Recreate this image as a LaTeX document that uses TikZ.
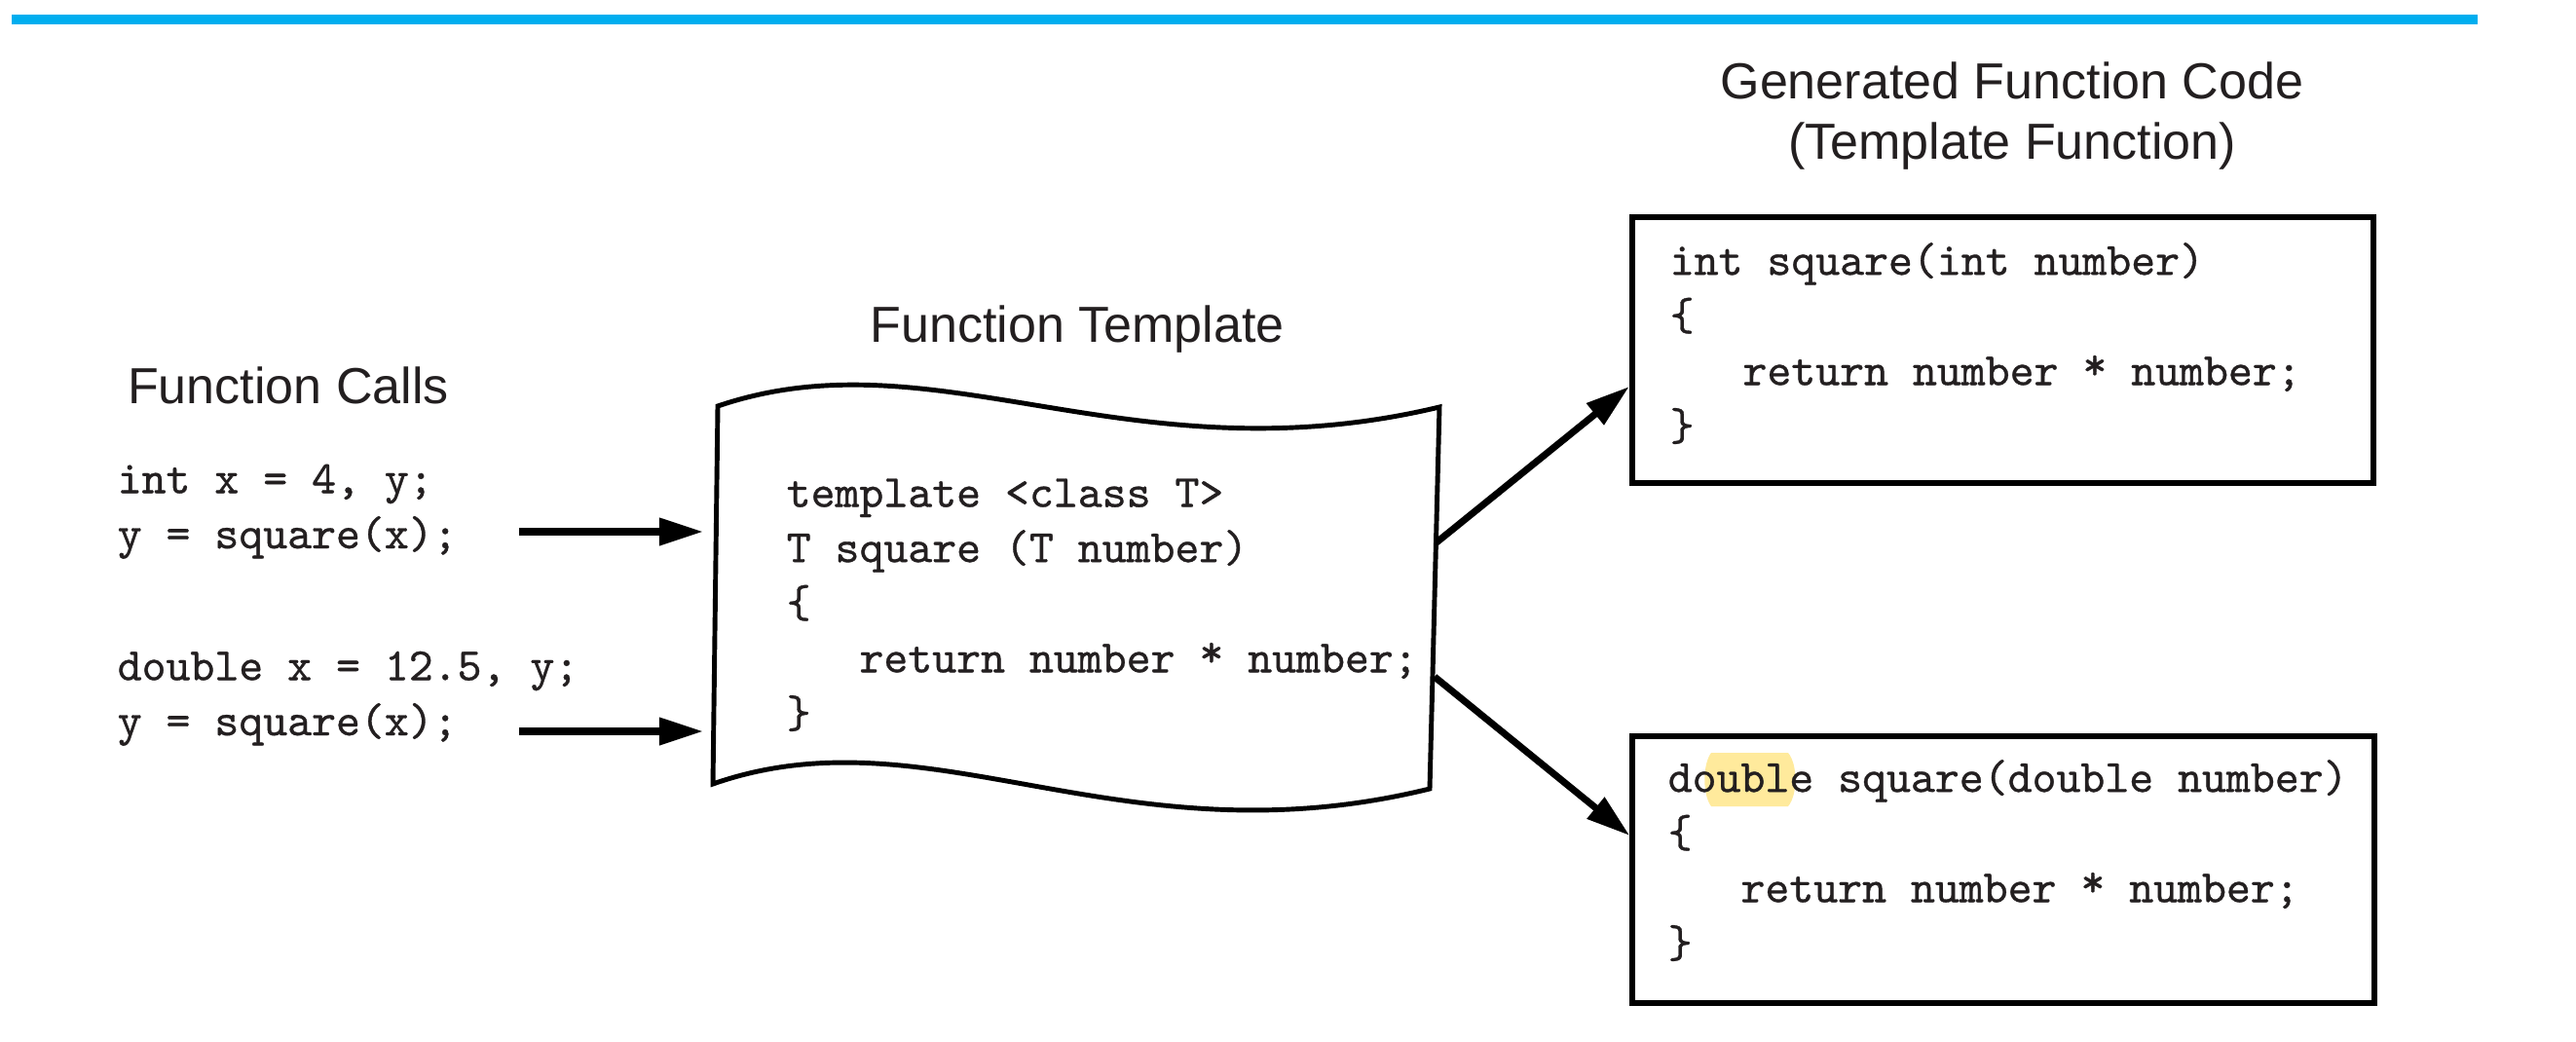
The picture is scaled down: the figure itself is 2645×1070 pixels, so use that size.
\documentclass[tikz,border=0pt]{standalone}
\usepackage{fontspec}
\newfontfamily\labelfont{Liberation Sans}
\newfontfamily\codefont[FakeBold=0.7]{lmmono10-regular.otf}
\usepackage{tikz}
\usetikzlibrary{positioning,arrows.meta}
\definecolor{bar}{HTML}{00AEEF}
\definecolor{hilite}{HTML}{FFEA9C}
\definecolor{ink}{HTML}{231F20}
\newcommand{\codestar}{\raisebox{0.12em}{*}}

\begin{document}
\begin{tikzpicture}[x=0.01cm, y=-0.01cm,
  heading/.style={font=\labelfont\fontsize{14.8}{17.4}\selectfont, text=ink, inner sep=0pt, align=center},
  code/.style={font=\codefont\fontsize{13.5}{16.1}\selectfont, text=ink, inner sep=0pt, align=left},
  genbox/.style={draw, line width=1.7pt, minimum width=7.61cm, minimum height=2.73cm, inner sep=0pt},
  arr/.style={-{Triangle[length=0.45cm, width=0.27cm]}, line width=2pt}]
\useasboundingbox (0,0) rectangle (2645,1070);
\fill[bar] (12,15) rectangle (2544,25);

% function calls (base = last line)
\node[heading, anchor=base] (callHead) at (296,414) {Function Calls};
\node[code, anchor=base west] (callA) at (120,563) {int x = 4, y;\\y = square(x);};
\node[code, anchor=base west] (callB) at (120,755) {double x = 12.5, y;\\y = square(x);};

% the template, drawn as a sheet with wavy edges
\node[heading, anchor=base] (tplHead) at (1106,351) {Function Template};
\coordinate (tplTL) at (737,417);
\coordinate (tplTR) at (1478,418);
\coordinate (tplBR) at (1468,810);
\coordinate (tplBL) at (732,805);
\draw[line width=1.4pt] (tplTL) .. controls (960,341) and (1160,494) .. (tplTR) -- (tplBR)
  .. controls (1150,888) and (955,727) .. (tplBL) -- cycle;
\node[code, anchor=base west] (tpl) at (807,747)
  {template <class T>\\T square (T number)\\\{\\\ \ \ return number \codestar{} number;\\\}};

% generated code
\node[heading, anchor=base] (genHead) at (2066,163) {Generated Function Code\\(Template Function)};
\node[genbox] (gInt) at (2056.5,359.5) {};
\node[code, anchor=base west] (gIntCode) at (1714,452)
  {int square(int number)\\\{\\\ \ \ return number \codestar{} number;\\\}};
\fill[hilite] (1757,773) -- (1836,773) .. controls (1846,785) and (1846,816) .. (1836,828)
  -- (1757,828) .. controls (1748,816) and (1748,785) .. (1757,773) -- cycle;
\node[genbox, minimum height=2.74cm] (gDbl) at (2057,893) {};
\node[code, anchor=base west] (gDblCode) at (1712,983)
  {double square(double number)\\\{\\\ \ \ return number \codestar{} number;\\\}};

% connectors
\coordinate (callAout) at (533,546);
\coordinate (callBout) at (533,751);
\coordinate (tplInA) at (722,546);
\coordinate (tplInB) at (722,751);
\coordinate (tplOutA) at (1475,557);
\coordinate (tplOutB) at (1473,695);
\draw[arr] (callAout) -- (tplInA);
\draw[arr] (callBout) -- (tplInB);
\draw[arr] (tplOutA) -- ([yshift=-0.375cm]gInt.west);
\draw[arr] (tplOutB) -- ([yshift=0.35cm]gDbl.west);
\end{tikzpicture}
\end{document}
